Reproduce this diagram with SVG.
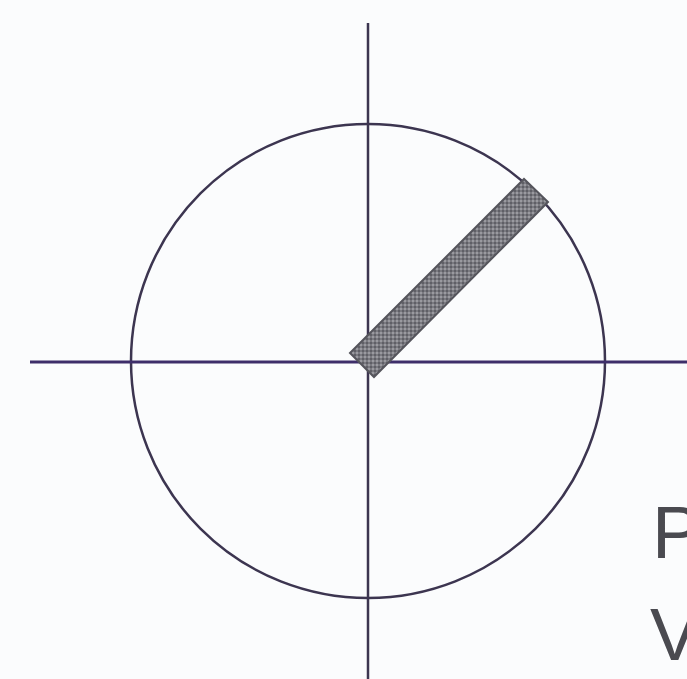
<svg xmlns="http://www.w3.org/2000/svg" width="687" height="679" viewBox="0 0 687 679">
<style>
.ax{stroke:#3c3550;stroke-width:2.5;fill:none}
.hz{stroke:#3e2e6a;stroke-width:3;fill:none}
.lbl{font-family:"Liberation Sans",Arial,sans-serif;fill:#4a4a50}
</style>
<defs>
<pattern id="tex" width="4" height="4" patternUnits="userSpaceOnUse">
<rect width="4" height="4" fill="#7a7a80"/>
<rect width="2" height="2" fill="#9a9aa0"/>
<rect x="2" y="2" width="2" height="2" fill="#5f5f66"/>
</pattern>
</defs>
<rect width="687" height="679" fill="#fbfcfd"/>
<g id="circle"><circle cx="368" cy="361" r="237" class="ax"/></g>
<g id="connectors">
<line x1="368" y1="23" x2="368" y2="679" class="ax"/>
<line x1="30" y1="362" x2="687" y2="362" class="hz"/>
</g>
<g id="bar"><polygon points="350,353 524,179 548,202 374,377" fill="url(#tex)" stroke="#55555c" stroke-width="2"/></g>
<g id="labels">
<text x="652" y="558" class="lbl" font-size="74">P</text>
<text x="650" y="660" class="lbl" font-size="74">V</text>
</g>
</svg>
